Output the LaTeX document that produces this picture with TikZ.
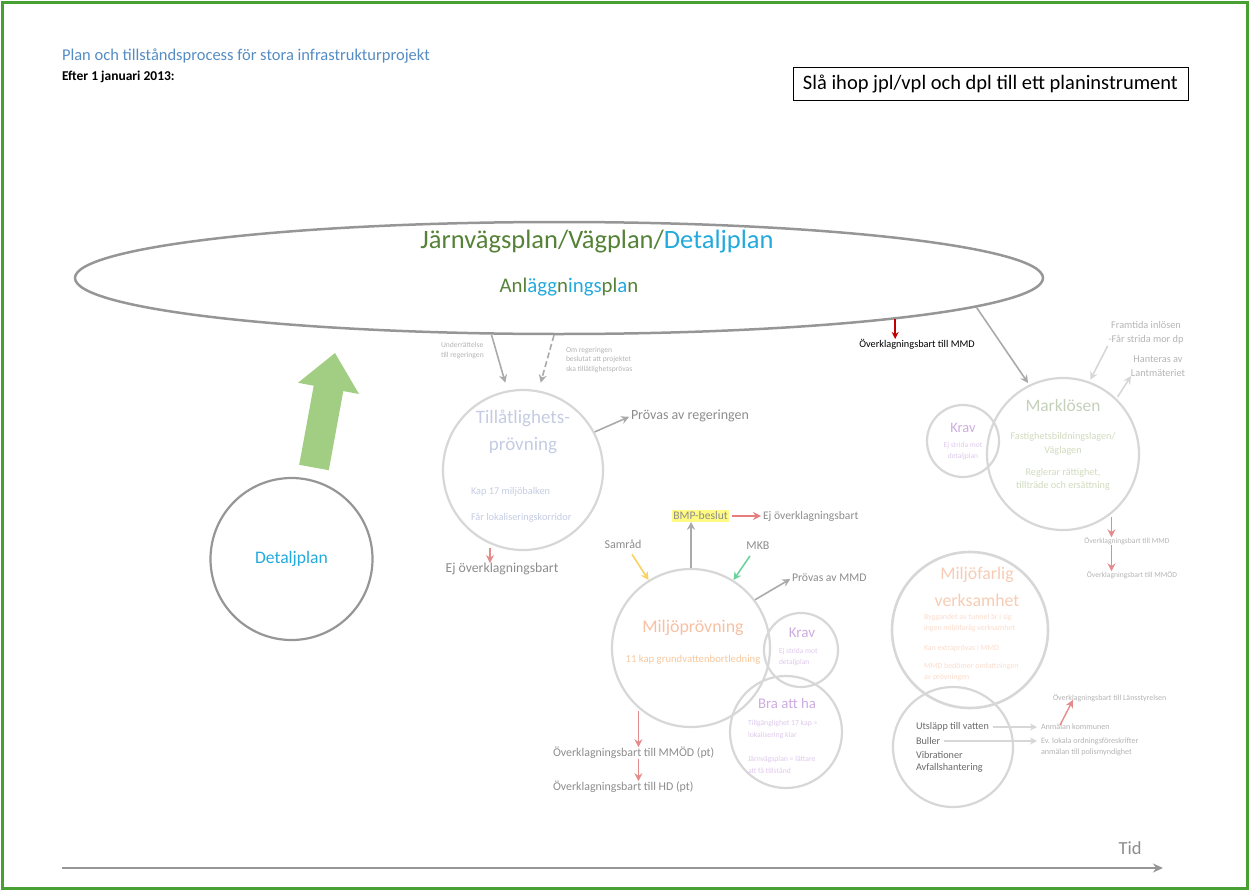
\documentclass[tikz,border=0pt]{standalone}
\usepackage{fontspec}
\setmainfont{Carlito}
\usetikzlibrary{arrows.meta,shapes.geometric,calc}

\definecolor{frameG}{RGB}{70,160,50}
\definecolor{titleblue}{RGB}{85,140,195}
\definecolor{pgreen}{RGB}{85,130,55}
\definecolor{pblue}{RGB}{35,170,220}
\definecolor{egray}{RGB}{150,150,150}
\definecolor{lgray}{RGB}{215,215,215}
\definecolor{agray}{RGB}{170,170,170}
\definecolor{tgray}{RGB}{140,140,140}
\definecolor{ltgray}{RGB}{180,180,180}
\definecolor{dkgray}{RGB}{105,105,105}
\definecolor{rarr}{RGB}{228,140,140}
\definecolor{darkred}{RGB}{192,0,0}
\definecolor{bigG}{RGB}{162,206,132}
\definecolor{tillT}{RGB}{196,204,226}
\definecolor{markT}{RGB}{196,208,186}
\definecolor{markS}{RGB}{208,218,190}
\definecolor{kravT}{RGB}{205,172,224}
\definecolor{kravS}{RGB}{222,200,236}
\definecolor{miljT}{RGB}{246,192,164}
\definecolor{miljS}{RGB}{246,200,158}
\definecolor{farT}{RGB}{247,204,180}
\definecolor{farS}{RGB}{250,220,205}
\definecolor{hlyellow}{RGB}{255,250,130}
\definecolor{yarr}{RGB}{250,210,95}
\definecolor{garr}{RGB}{110,210,160}

\newcommand\fsz[2]{\fontsize{#1}{#2}\selectfont}

\tikzset{
  txt/.style={inner sep=0pt, outer sep=0pt},
  bubble/.style={circle, draw=lgray, line width=2.2pt, inner sep=0pt},
  garrow/.style={draw=agray, line width=1.6pt, -{Stealth[length=8pt,width=8pt]}},
  larrow/.style={draw=lgray, line width=1.4pt, -{Stealth[length=7pt,width=7pt]}},
  rarrow/.style={draw=rarr, line width=1.6pt, -{Stealth[length=8pt,width=8pt]}},
}

\begin{document}
\begin{tikzpicture}[x=1pt, y=-1pt]
\useasboundingbox (0,0) rectangle (1250,891);
\draw[frameG, line width=2.2pt] (2.5,2.5) rectangle (1247.5,888.5);

% heading
\node[txt, anchor=west, text=titleblue, font=\fsz{16.5}{20}] (title) at (62,56) {Plan och tillståndsprocess för stora infrastrukturprojekt};
\node[txt, anchor=west, font=\bfseries\fsz{13.5}{16}] (date) at (62,77) {Efter 1 januari 2013:};
\node[draw=black, line width=1pt, minimum width=395, minimum height=32, inner sep=0pt, font=\fsz{20.5}{24}] (merge) at (990.5,84) {Slå ihop jpl/vpl och dpl till ett planinstrument};

% the combined plan
\node[ellipse, draw=egray, line width=2.5pt, minimum width=968, minimum height=112, inner sep=0pt] (plan) at (559,278) {};
\node[txt, font=\fsz{26.5}{30}] (planname) at (597,242) {\textcolor{pgreen}{Järnvägsplan/Vägplan/}\textcolor{pblue}{Detaljplan}};
\node[txt, font=\fsz{20.8}{24}] (anl) at (569,287) {\textcolor{pgreen}{Anl}\textcolor{pblue}{ägg}\textcolor{pgreen}{n}\textcolor{pblue}{ings}\textcolor{pgreen}{pl}\textcolor{pblue}{a}\textcolor{pgreen}{n}};

% detaljplan and the wide arrow into the plan
\node[circle, draw=egray, line width=2.2pt, minimum size=162, inner sep=0pt, text=pblue, font=\fsz{17.6}{20}] (dp) at (291.5,559) {Detaljplan};
\fill[bigG] (299.2,464.8) -- (328.8,470.2) -- (343.3,391.1) -- (359,394) -- (335,353) -- (298,382.8) -- (313.7,385.7) -- cycle;

% tillåtlighetsprövning
\node[bubble, minimum size=160] (till) at (523,470) {};
\node[txt, text=tillT, font=\fsz{19}{22}] (tillA) at (523,418) {Tillåtlighets-};
\node[txt, text=tillT, font=\fsz{19}{22}] (tillB) at (523,446) {prövning};
\node[txt, anchor=west, text=tillT, font=\fsz{10.3}{12}] (tillC) at (471,492) {Kap 17 miljöbalken};
\node[txt, anchor=west, text=tillT, font=\fsz{10.3}{12}] (tillD) at (471,518) {Får lokaliseringskorridor};
\node[txt, anchor=west, align=left, text=ltgray, font=\fsz{7.6}{10}] (notify) at (441,351) {Underrättelse\\till regeringen};
\node[txt, anchor=west, align=left, text=ltgray, font=\fsz{7.6}{9.5}] (ifgov) at (566,360) {Om regeringen\\beslutat att projektet\\ska tillåtlighetsprövas};
\draw[garrow, shorten >=8pt] (plan.220.5) -- (till.101);
\draw[garrow, dash pattern=on 6pt off 3pt, shorten >=8pt] (plan.265) -- (till.79);
\node[txt, anchor=west, text=tgray, font=\fsz{14}{16}] (provreg) at (631,416) {Prövas av regeringen};
\draw[garrow, shorten >=2pt] (till.28) -- (provreg.west);
\node[txt, text=tgray, font=\fsz{13.7}{16}] (ejA) at (502,569) {Ej överklagningsbart};
\draw[rarrow, shorten <=4pt] (till.246) -- (till.246 |- ejA.north);

% appeal of the plan
\node[txt, font=\fsz{10.3}{12}] (mmd) at (917,344) {Överklagningsbart till MMD};
\draw[draw=darkred, line width=1.6pt, -{Stealth[length=7pt,width=7pt]}] (plan.353.4) -- (plan.353.4 |- mmd.north);

% marklösen
\node[bubble, minimum size=152] (mark) at (1063,454) {};
\node[bubble, minimum size=72] (kravM) at (963,441) {};
\node[txt, text=markT, font=\fsz{17.4}{20}] (markA) at (1063,406) {Marklösen};
\node[txt, align=center, text=markS, font=\fsz{10.2}{13.5}] (markB) at (1063,444) {Fastighetsbildningslagen/\\Väglagen};
\node[txt, align=center, text=markS, font=\fsz{10.2}{13}] (markC) at (1063,479) {Reglerar rättighet,\\tillträde och ersättning};
\node[txt, text=kravT, font=\fsz{14.4}{16}] (kravMA) at (963,428) {Krav};
\node[txt, align=center, text=kravS, font=\fsz{7.5}{11}] (kravMB) at (963,451) {Ej strida mot\\detaljplan};
\draw[garrow, shorten >=2pt] (plan.356.3) -- (mark.116);
\node[txt, align=center, text=ltgray, font=\fsz{10.3}{13.5}] (fram) at (1146,333) {Framtida inlösen\\-Får strida mor dp};
\draw[garrow, draw=lgray, shorten <=2pt, shorten >=2pt] (fram.south west) -- (mark.70);
\node[txt, align=center, text=ltgray, font=\fsz{10.3}{13.5}] (hant) at (1158,366) {Hanteras av\\Lantmäteriet};
\draw[garrow, draw=lgray, shorten <=2pt] (mark.46) -- (hant.south west);
\node[txt, text=ltgray, font=\fsz{7.6}{9}] (mmdM) at (1127,541) {Överklagningsbart till MMD};
\node[txt, text=ltgray, font=\fsz{7.6}{9}] (mmodM) at (1132,575) {Överklagningsbart till MMÖD};
\draw[rarrow, shorten <=3pt] (mark.309) -- (mark.309 |- mmdM.north);
\draw[rarrow] (mmdM.south -| mark.309) -- (mark.309 |- mmodM.north);

% miljöprövning
\node[bubble, minimum size=158] (milj) at (691,648) {};
\node[bubble, minimum size=74] (kravP) at (801,650) {};
\node[bubble, minimum size=112] (bra) at (786,732) {};
\node[txt, text=miljT, font=\fsz{17.9}{20}] (miljA) at (693,628) {Miljöprövning};
\node[txt, text=miljS, font=\fsz{10.7}{12}] (miljB) at (693,660) {11 kap grundvattenbortledning};
\node[txt, text=kravT, font=\fsz{15}{17}] (kravPA) at (802,633) {Krav};
\node[txt, anchor=west, align=left, text=kravS, font=\fsz{7.5}{11}] (kravPB) at (779,657) {Ej strida mot\\detaljplan};
\node[txt, text=kravT, font=\fsz{14.8}{17}] (braA) at (787,703) {Bra att ha};
\node[txt, anchor=west, align=left, text=kravS, font=\fsz{7.7}{12}] (braB) at (748,729) {Tillgänglighet 17 kap =\\lokalisering klar};
\node[txt, anchor=west, align=left, text=kravS, font=\fsz{7.7}{12}] (braC) at (748,765) {Järnvägsplan = lättare\\att få tillstånd};
\node[fill=hlyellow, inner xsep=1.5pt, inner ysep=1.5pt, text=tgray, font=\fsz{11.6}{13}] (bmp) at (700.5,516) {BMP-beslut};
\draw[garrow] (milj.north) -- (milj.north |- bmp.south);
\node[txt, anchor=west, text=tgray, font=\fsz{11.6}{13}] (ejB) at (763,516) {Ej överklagningsbart};
\draw[rarrow, draw=rarr!90!red, shorten <=3pt, shorten >=2pt] (bmp.east) -- (ejB.west);
\node[txt, text=tgray, font=\fsz{12}{14}] (samrad) at (623,544) {Samråd};
\draw[draw=yarr, line width=1.6pt, -{Stealth[length=8pt,width=8pt]}] ([xshift=9pt,yshift=-6pt]samrad.south) -- (milj.122);
\node[txt, text=tgray, font=\fsz{12}{14}] (mkb) at (758,546) {MKB};
\draw[draw=garr, line width=1.6pt, -{Stealth[length=8pt,width=8pt]}] ([xshift=-8pt,yshift=-6pt]mkb.south) -- (milj.58);
\node[txt, anchor=west, text=tgray, font=\fsz{11.7}{14}] (provmmd) at (792,578) {Prövas av MMD};
\draw[garrow, shorten >=2pt] (milj.37) -- (provmmd.west);
\node[txt, anchor=west, text=tgray, font=\fsz{11.9}{14}] (mmodP) at (553,753) {Överklagningsbart till MMÖD (pt)};
\node[txt, anchor=west, text=tgray, font=\fsz{11.9}{14}] (hdP) at (553,787) {Överklagningsbart till HD (pt)};
\draw[rarrow, shorten <=3pt] (milj.229) -- (milj.229 |- mmodP.north);
\draw[rarrow] (mmodP.south -| milj.229) -- (milj.229 |- hdP.north);

% miljöfarlig verksamhet
\node[bubble, line width=2.6pt, minimum size=156] (far) at (970,630) {};
\node[bubble, minimum size=120] (uts) at (953,747) {};
\node[txt, text=farT, font=\fsz{17.8}{20}] (farA) at (977,575) {Miljöfarlig};
\node[txt, text=farT, font=\fsz{17.8}{20}] (farB) at (977,600) {verksamhet};
\node[txt, anchor=west, align=left, text=farS, font=\fsz{7.9}{11}] (farC) at (924,623) {Byggandet av tunnel är i sig\\ingen miljöfarlig verksamhet};
\node[txt, anchor=west, text=farS, font=\fsz{7.9}{11}] (farD) at (924,648) {Kan extraprövas i MMD};
\node[txt, anchor=west, align=left, text=farS, font=\fsz{7.9}{11}] (farE) at (924,672) {MMD bedömer omfattningen\\av prövningen};
\node[txt, anchor=west, text=dkgray, font=\fsz{10.2}{12}] (u1) at (916,727) {Utsläpp till vatten};
\node[txt, anchor=west, text=dkgray, font=\fsz{10.2}{12}] (u2) at (916,741) {Buller};
\node[txt, anchor=west, text=dkgray, font=\fsz{10.2}{12}] (u3) at (916,755) {Vibrationer};
\node[txt, anchor=west, text=dkgray, font=\fsz{10.2}{12}] (u4) at (916,768) {Avfallshantering};
\node[txt, anchor=west, text=ltgray, font=\fsz{8.1}{10}] (anm) at (1041,727) {Anmälan kommunen};
\node[txt, anchor=west, text=ltgray, font=\fsz{8.1}{10}] (ev1) at (1041,741) {Ev. lokala ordningsföreskrifter};
\node[txt, anchor=west, text=ltgray, font=\fsz{8.1}{10}] (ev2) at (1041,752) {anmälan till polismyndighet};
\node[txt, anchor=west, text=ltgray, font=\fsz{7.9}{10}] (lans) at (1053,698) {Överklagningsbart till Länsstyrelsen};
\draw[larrow] ([xshift=4pt]u1.east) -- ([xshift=-4pt]anm.west);
\draw[larrow] ([xshift=4pt]u2.east) -- ([xshift=-4pt]ev1.west);
\draw[rarrow, line width=1.4pt] ([xshift=19pt,yshift=-1pt]anm.north west) -- ([xshift=20pt,yshift=2pt]lans.south west);

% time axis
\coordinate (t0) at (62,868);
\coordinate (t1) at (1163,868);
\draw[draw=egray, line width=2.4pt, -{Stealth[length=10pt,width=9pt]}] (t0) -- (t1);
\node[txt, text=tgray, font=\fsz{18.5}{20}] (tid) at (1130,848) {Tid};
\end{tikzpicture}
\end{document}
